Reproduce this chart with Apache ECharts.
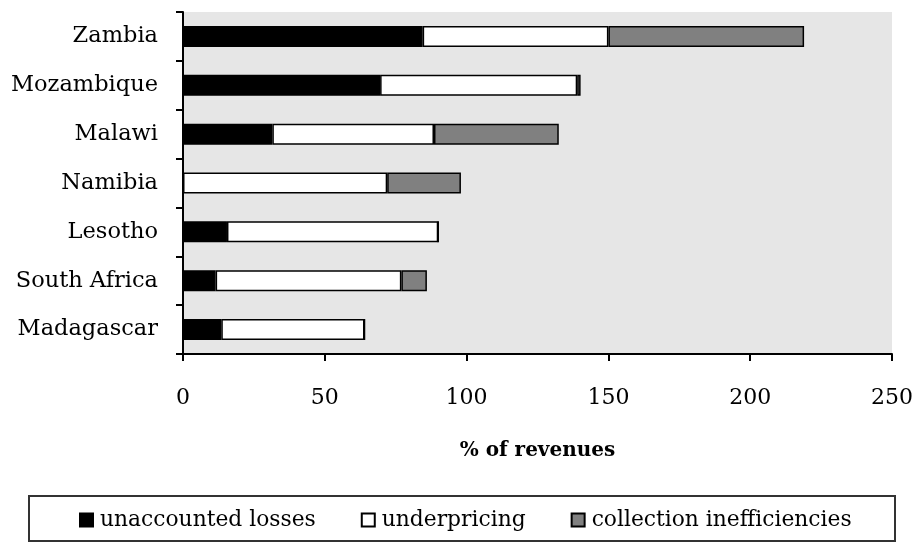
<!DOCTYPE html>
<html>
<head>
<meta charset="utf-8">
<script src="https://cdn.jsdelivr.net/npm/echarts@6/dist/echarts.min.js"></script>
<style>html,body{margin:0;padding:0;background:#fff}#c{width:916px;height:542px}</style>
</head>
<body>
<div id="c"></div>
<script>
const categories = ['Zambia','Mozambique','Malawi','Namibia','Lesotho','South Africa','Madagascar'];
const unaccountedLosses = [84.5, 69.5, 31.5, 0, 15.5, 11.5, 13.5];
const underpricing = [65.5, 69.5, 57, 72, 74.5, 65.5, 50.5];
const collectionInefficiencies = [69, 1.2, 44, 26, 0, 9, 0];
const xTicks = {min: 0, max: 250, interval: 50};

const FONT = 'DejaVu Serif';
const chart = echarts.init(document.getElementById('c'), null, {renderer: 'canvas'});
function bar(name, data, color) {
  return {
    name: name, type: 'bar', stack: 'total', data: data, barWidth: 21,
    itemStyle: {color: color, borderColor: '#000', borderWidth: 1.5},
    emphasis: {disabled: true}
  };
}
chart.setOption({
  animation: false,
  textStyle: {fontFamily: FONT},
  grid: {left: 183, right: 23, top: 12, bottom: 188, show: true, backgroundColor: '#e6e6e6', borderWidth: 0},
  xAxis: {
    type: 'value', min: xTicks.min, max: xTicks.max, interval: xTicks.interval,
    axisLine: {show: true, lineStyle: {color: '#000', width: 2}},
    axisTick: {show: true, length: 7, lineStyle: {color: '#000', width: 2}},
    axisLabel: {color: '#000', fontFamily: FONT, fontSize: 22, margin: 33},
    splitLine: {show: false},
    name: '% of revenues', nameLocation: 'middle', nameGap: 87,
    nameTextStyle: {color: '#000', fontFamily: FONT, fontSize: 20, fontWeight: 'bold'}
  },
  yAxis: {
    type: 'category', data: categories, inverse: true,
    axisLine: {show: true, lineStyle: {color: '#000', width: 2}},
    axisTick: {show: true, length: 7, lineStyle: {color: '#000', width: 2}},
    axisLabel: {color: '#000', fontFamily: FONT, fontSize: 22.5, margin: 25}
  },
  legend: {
    left: 74, top: 504, itemWidth: 13, itemHeight: 13, itemGap: 45, icon: 'rect',
    textStyle: {color: '#000', fontFamily: FONT, fontSize: 21.8, padding: [0, 0, 0, 2]},
    data: ['unaccounted losses', 'underpricing', 'collection inefficiencies']
  },
  graphic: [{
    type: 'rect', shape: {x: 29, y: 496, width: 866, height: 45},
    style: {fill: 'none', stroke: '#333', lineWidth: 2}
  }],
  series: [
    bar('unaccounted losses', unaccountedLosses, '#000000'),
    bar('underpricing', underpricing, '#ffffff'),
    bar('collection inefficiencies', collectionInefficiencies, '#808080')
  ]
});
</script>
</body>
</html>
